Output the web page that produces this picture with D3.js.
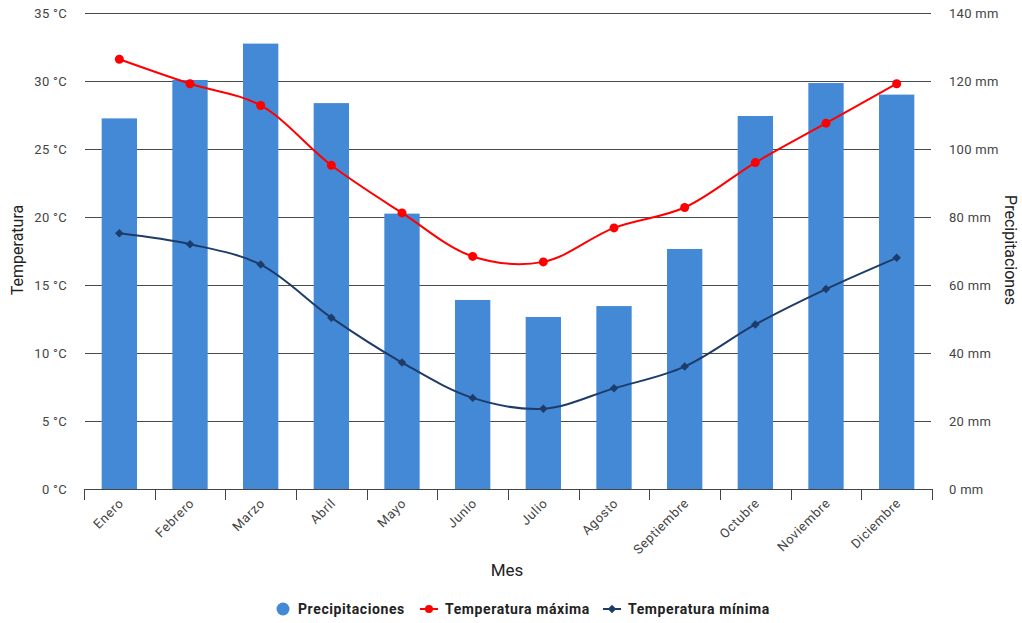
<!DOCTYPE html>
<html>
<head>
<meta charset="utf-8">
<script src="https://cdn.jsdelivr.net/npm/d3@7"></script>
<style>
  html, body { margin: 0; padding: 0; background: #fff; }
  svg { display: block; font-family: Roboto, "Noto Sans", sans-serif; }
</style>
</head>
<body>
<svg id="chart" width="1022" height="623"></svg>
<script>
// Climate data per month
const months = ["Enero", "Febrero", "Marzo", "Abril", "Mayo", "Junio", "Julio",
                "Agosto", "Septiembre", "Octubre", "Noviembre", "Diciembre"];
const precipitaciones = [109, 120.3, 131, 113.5, 81, 55.6, 50.6, 53.8, 70.6, 109.7, 119.4, 116];
const tempMax = [31.6, 29.8, 28.2, 23.8, 20.3, 17.1, 16.7, 19.2, 20.7, 24.0, 26.9, 29.8];
const tempMin = [18.8, 18.0, 16.5, 12.6, 9.3, 6.7, 5.9, 7.4, 9.0, 12.1, 14.7, 17.0];
const tempTicks = [0, 5, 10, 15, 20, 25, 30, 35];
const rainTicks = [0, 20, 40, 60, 80, 100, 120, 140];

const svg = d3.select("#chart");
const plotLeft = 84, plotRight = 932, plotTop = 13, plotBottom = 489;

const x = d3.scaleBand().domain(months).range([plotLeft, plotRight]).paddingInner(0.5).paddingOuter(0.25);
const xPt = m => x(m) + x.bandwidth() / 2;
const yT = d3.scaleLinear().domain([0, 35]).range([plotBottom, plotTop]);
const yP = d3.scaleLinear().domain([0, 140]).range([plotBottom, plotTop]);

// Horizontal gridlines
svg.append("g").selectAll("line").data(tempTicks).join("line")
  .attr("x1", plotLeft + 1).attr("x2", plotRight - 1)
  .attr("y1", d => Math.round(yT(d)) + 0.5).attr("y2", d => Math.round(yT(d)) + 0.5)
  .attr("stroke", "#4a4a4a").attr("stroke-width", 1);

// Left axis labels
svg.append("g").selectAll("text").data(tempTicks).join("text")
  .attr("x", 67).attr("y", d => yT(d) + 4.5)
  .attr("text-anchor", "end").attr("font-size", 13).attr("fill", "#444")
  .attr("letter-spacing", 0.3)
  .text(d => d + " °C");

// Right axis labels
svg.append("g").selectAll("text").data(rainTicks).join("text")
  .attr("x", 949).attr("y", d => yP(d) + 4.5)
  .attr("text-anchor", "start").attr("font-size", 13).attr("fill", "#444")
  .attr("letter-spacing", 0.3)
  .text(d => d + " mm");

// Bars: precipitation
svg.append("g").selectAll("rect").data(months).join("rect")
  .attr("x", m => x(m)).attr("width", x.bandwidth())
  .attr("y", (m, i) => yP(precipitaciones[i]))
  .attr("height", (m, i) => yP(0) - yP(precipitaciones[i]))
  .attr("fill", "#4389d6");

// X axis
const xAxis = svg.append("g");
xAxis.append("line").attr("x1", plotLeft).attr("x2", plotRight)
  .attr("y1", plotBottom + 0.5).attr("y2", plotBottom + 0.5).attr("stroke", "#444");
const bounds = [plotLeft].concat(months.map(m => x(m) + x.bandwidth() + x.step() * 0.25));
xAxis.selectAll("line.tick").data(bounds).join("line").attr("class", "tick")
  .attr("x1", d => Math.round(d) + 0.5).attr("x2", d => Math.round(d) + 0.5)
  .attr("y1", plotBottom).attr("y2", plotBottom + 11).attr("stroke", "#444");
xAxis.selectAll("text").data(months).join("text")
  .attr("transform", m => `translate(${xPt(m) + 5},${plotBottom + 15}) rotate(-45)`)
  .attr("text-anchor", "end").attr("font-size", 13).attr("fill", "#444")
  .attr("letter-spacing", 0.6)
  .text(m => m);

// Temperature lines
const curve = d3.curveCatmullRom.alpha(0.5);
const tempLine = d3.line().x((d, i) => xPt(months[i])).y(d => yT(d)).curve(curve);
svg.append("path").attr("d", tempLine(tempMax)).attr("fill", "none")
  .attr("stroke", "#ff0000").attr("stroke-width", 2);
svg.append("g").selectAll("circle").data(tempMax).join("circle")
  .attr("cx", (d, i) => xPt(months[i])).attr("cy", d => yT(d)).attr("r", 4.5)
  .attr("fill", "#ff0000");

const minColor = "#1e3c6a";
svg.append("path").attr("d", tempLine(tempMin)).attr("fill", "none")
  .attr("stroke", minColor).attr("stroke-width", 2);
const diamond = d3.symbol().type(d3.symbolSquare).size(36);
svg.append("g").selectAll("path").data(tempMin).join("path")
  .attr("d", diamond)
  .attr("transform", (d, i) => `translate(${xPt(months[i])},${yT(d)}) rotate(45)`)
  .attr("fill", minColor);

// Axis titles
svg.append("text").attr("transform", "translate(23,250) rotate(-90)")
  .attr("text-anchor", "middle").attr("font-size", 16).attr("fill", "#222").text("Temperatura");
svg.append("text").attr("transform", "translate(1005,250) rotate(90)")
  .attr("text-anchor", "middle").attr("font-size", 16).attr("fill", "#222").text("Precipitaciones");
svg.append("text").attr("x", 507).attr("y", 576)
  .attr("text-anchor", "middle").attr("font-size", 17).attr("fill", "#222").text("Mes");

// Legend
const lg = svg.append("g").attr("font-size", 14).attr("font-weight", "bold").attr("fill", "#222")
  .attr("letter-spacing", 0.6);
lg.append("circle").attr("cx", 283).attr("cy", 609).attr("r", 6.5).attr("fill", "#4389d6");
lg.append("text").attr("x", 298).attr("y", 614).text("Precipitaciones");
lg.append("line").attr("x1", 420).attr("x2", 438).attr("y1", 609).attr("y2", 609)
  .attr("stroke", "#ff0000").attr("stroke-width", 2);
lg.append("circle").attr("cx", 429).attr("cy", 609).attr("r", 4).attr("fill", "#ff0000");
lg.append("text").attr("x", 445).attr("y", 614).text("Temperatura máxima");
lg.append("line").attr("x1", 603).attr("x2", 621).attr("y1", 609).attr("y2", 609)
  .attr("stroke", minColor).attr("stroke-width", 2);
lg.append("path").attr("d", diamond).attr("transform", "translate(612,609) rotate(45)").attr("fill", minColor);
lg.append("text").attr("x", 628).attr("y", 614).text("Temperatura mínima");
</script>
</body>
</html>
